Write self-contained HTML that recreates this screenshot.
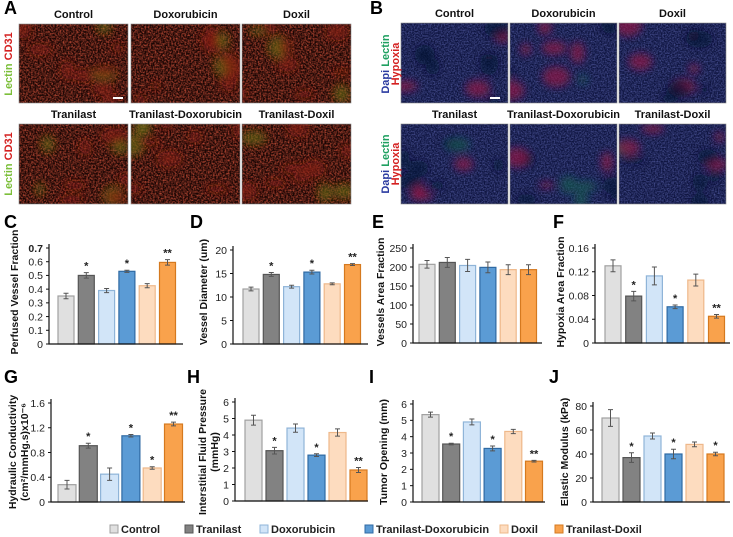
<!DOCTYPE html>
<html><head><meta charset="utf-8">
<style>
html,body{margin:0;padding:0;background:#fff;}
svg{display:block;font-family:"Liberation Sans",Arial,sans-serif;}
.t{font-weight:bold;font-size:11px;}
.tk{font-size:10.5px;fill:#222;}
.yt{font-weight:bold;font-size:10.5px;fill:#111;}
.lt{font-weight:bold;font-size:18px;fill:#000;font-family:"Liberation Sans",Arial,sans-serif;}
.lg{font-weight:bold;font-size:11px;fill:#222;}
</style></head>
<body>
<svg id="fig" width="733" height="537" viewBox="0 0 733 537" xmlns="http://www.w3.org/2000/svg">
<defs>
<filter id="blur" x="-50%" y="-50%" width="200%" height="200%"><feGaussianBlur stdDeviation="4"/></filter>
<filter id="noiseR"><feTurbulence type="fractalNoise" baseFrequency="0.6" numOctaves="2" seed="3"/><feColorMatrix values="0 0 0 0 0.75  0 0 0 0 0.1  0 0 0 0 0.05  1.6 0 0 0 -0.55"/></filter>
<filter id="noiseB"><feTurbulence type="fractalNoise" baseFrequency="0.7" numOctaves="2" seed="5"/><feColorMatrix values="0 0 0 0 0.15  0 0 0 0 0.18  0 0 0 0 0.55  1.2 0 0 0 -0.4"/></filter>
</defs>
<g id="panels"></g>
<g id="charts"></g>
<g id="legend"></g>
</svg>
<script>
// ---- chart data ----
const groups = ["Control","Tranilast","Doxorubicin","Tranilast-Doxorubicin","Doxil","Tranilast-Doxil"];
const perfusedVals = [0.35,0.50,0.39,0.53,0.425,0.595];
const perfusedErr = [0.02,0.02,0.015,0.008,0.015,0.02];
const perfusedStars = ["","*","","*","","**"];
const perfusedTicks = ["0","0.1","0.2","0.3","0.4","0.5","0.6","0.7"];
const diameterVals = [11.7,14.8,12.2,15.3,12.8,16.9];
const diameterErr = [0.4,0.4,0.3,0.4,0.2,0.2];
const diameterStars = ["","*","","*","","**"];
const diameterTicks = ["0","5","10","15","20"];
const areaVals = [207,212,204,199,193,193];
const areaErr = [10,13,16,14,13,13];
const areaStars = ["","","","","",""];
const areaTicks = ["0","50","100","150","200","250"];
const hypoxiaVals = [0.130,0.079,0.113,0.061,0.106,0.045];
const hypoxiaErr = [0.010,0.008,0.015,0.003,0.010,0.003];
const hypoxiaStars = ["","*","","*","","**"];
const hypoxiaTicks = ["0","0.04","0.08","0.12","0.16"];
const hydraulicVals = [0.28,0.91,0.45,1.07,0.55,1.26];
const hydraulicErr = [0.07,0.04,0.10,0.02,0.02,0.03];
const hydraulicStars = ["","*","","*","*","**"];
const hydraulicTicks = ["0","0.4","0.8","1.2","1.6"];
const ifpVals = [4.9,3.05,4.42,2.78,4.15,1.88];
const ifpErr = [0.3,0.2,0.25,0.08,0.22,0.15];
const ifpStars = ["","*","","*","","**"];
const ifpTicks = ["0","1","2","3","4","5","6"];
const openingVals = [5.35,3.55,4.9,3.28,4.32,2.5];
const openingErr = [0.15,0.05,0.18,0.15,0.13,0.05];
const openingStars = ["","*","","*","","**"];
const openingTicks = ["0","1","2","3","4","5","6"];
const modulusVals = [70,37,55,40,48,40];
const modulusErr = [7,4,2.5,4,2,1.5];
const modulusStars = ["","*","","*","","*"];
const modulusTicks = ["0","20","40","60","80"];

const fills = ["#e0e0e0","#828282","#d2e5f8","#5b9bd5","#fddcbf","#f9a24c"];
const strokes = ["#a0a0a0","#555555","#8fb4d8","#2f6aa3","#eeb88a","#d5791f"];
const NS = "http://www.w3.org/2000/svg";
function el(tag, attrs, parent, text){
  const e = document.createElementNS(NS, tag);
  for (const k in attrs) e.setAttribute(k, attrs[k]);
  if (text !== undefined) e.textContent = text;
  parent.appendChild(e);
  return e;
}
const P = document.getElementById("panels");
const C = document.getElementById("charts");
const L = document.getElementById("legend");

// ---- panel letters ----
const letters = [["A",4,14],["B",370,14],["C",4,228],["D",190,228],["E",372,228],["F",553,228],["G",4,383],["H",187,383],["I",369,383],["J",549,383]];
letters.forEach(l=>{
  const t = el("text",{x:l[1],y:l[2],class:"lt"},P,l[0]);
  
  
});

// ---- microscopy panels ----
function pseudo(seed){ let s=seed; return ()=>{ s=(s*9301+49297)%233280; return s/233280; }; }
function micro(x,y,w,h,type,seed,title,name){
  const g = el("g",{},P);
  
  
  el("rect",{x:x,y:y,width:w,height:h,fill:type==="A"?"#1a0604":"#0e1440"},g);
  const cp = el("clipPath",{id:"c"+seed},g);
  el("rect",{x:x,y:y,width:w,height:h},cp);
  el("rect",{x:x,y:y,width:w,height:h,filter:type==="A"?"url(#noiseR)":"url(#noiseB)","clip-path":"url(#c"+seed+")"},g);
  const bl = el("g",{"clip-path":"url(#c"+seed+")",filter:"url(#blur)"},g);
  const r = pseudo(seed);
  for(let i=0;i<10;i++){
    let col;
    if(type==="A") col = r()<0.3 ? "#6a7018" : "#8a1a0c";
    else col = r()<0.35 ? "#a01840" : (r()<0.2?"#186050":"#080c30");
    el("ellipse",{cx:x+r()*w,cy:y+r()*h,rx:4+r()*10,ry:3+r()*8,fill:col,opacity:0.6},bl);
  }
  el("rect",{x:x,y:y,width:w,height:h,fill:"none",stroke:"#888","stroke-width":0.6},g);
  const t = el("text",{x:x+w/2,y:y-6,"text-anchor":"middle",class:"t",fill:"#111"},g,title);
  
  
}
const titlesTop = ["Control","Doxorubicin","Doxil"];
const titlesBot = ["Tranilast","Tranilast-Doxorubicin","Tranilast-Doxil"];
const axs = [19,131,242], bxs = [401,510,619];
for(let i=0;i<3;i++){
  micro(axs[i],24,109,79,"A",11+i,titlesTop[i],"panel-a-image-"+(i+1));
  micro(axs[i],124,109,80,"A",21+i,titlesBot[i],"panel-a-image-"+(i+4));
  micro(bxs[i],23,107,80,"B",31+i,titlesTop[i],"panel-b-image-"+(i+1));
  micro(bxs[i],124,107,80,"B",41+i,titlesBot[i],"panel-b-image-"+(i+4));
}
el("rect",{x:113,y:97,width:10,height:2,fill:"#fff"},P);
el("rect",{x:490,y:97,width:10,height:2,fill:"#fff"},P);
function sideLabel(cx,cy,parts,name){
  const t = el("text",{transform:"translate("+cx+","+cy+") rotate(-90)","text-anchor":"middle",class:"t"},P);
  
  
  parts.forEach(p=>{ el("tspan",{fill:p[1]},t,p[0]); });
}
sideLabel(12,64,[["Lectin ","#7cbf3a"],["CD31","#d42020"]],"panel-a-stain-label-top");
sideLabel(12,164,[["Lectin ","#7cbf3a"],["CD31","#d42020"]],"panel-a-stain-label-bottom");
[64,164].forEach((cy,i)=>{
  const t = el("text",{transform:"translate(389,"+cy+") rotate(-90)","text-anchor":"middle",class:"t"},P);
  
  
  el("tspan",{fill:"#2a3aa0"},t,"Dapi ");
  el("tspan",{fill:"#1fa060"},t,"Lectin");
  const t2 = el("text",{transform:"translate(399,"+cy+") rotate(-90)","text-anchor":"middle",class:"t",fill:"#d42020"},P,"Hypoxia");
  
  
});

// ---- bar charts ----
function chart(cfg){
  const g = el("g",{},C);
  
  
  const maxV = parseFloat(cfg.ticks[cfg.ticks.length-1]);
  const yS = v => cfg.y0 - (v/maxV)*(cfg.y0-cfg.ytop);
  cfg.vals.forEach((v,i)=>{
    const x = cfg.bx + i*cfg.sp;
    const b = el("rect",{x:x,y:yS(v),width:cfg.w,height:cfg.y0-yS(v),fill:fills[i],stroke:strokes[i],"stroke-width":1.2},g);
    
    
    const cx = x + cfg.w/2, e = cfg.err[i];
    const eb = el("path",{d:"M"+cx+","+yS(v+e)+"V"+yS(v-e)+"M"+(cx-2.5)+","+yS(v+e)+"h5M"+(cx-2.5)+","+yS(v-e)+"h5",stroke:"#555","stroke-width":1,fill:"none"},g);
    
    
    if(cfg.stars[i]){
      const s = el("text",{x:cx,y:yS(v+e)-3,"text-anchor":"middle","font-size":"11","font-weight":"bold",fill:"#222"},g,cfg.stars[i]);
      
      
    }
  });
  const ax = el("path",{d:"M"+cfg.ax+","+(cfg.ytop-4)+"V"+cfg.y0+"H"+cfg.xend,stroke:"#111","stroke-width":1.2,fill:"none"},g);
  
  
  cfg.ticks.forEach((tk,i)=>{
    const yy = yS(parseFloat(tk));
    el("line",{x1:cfg.ax-3,x2:cfg.ax,y1:yy,y2:yy,stroke:"#111","stroke-width":1},g);
    const t = el("text",{x:cfg.ax-6,y:yy+3.8,"text-anchor":"end",class:"tk","font-weight":(cfg.boldTop&&i===cfg.ticks.length-1)?"bold":"normal"},g,tk);
    
    
  });
  cfg.title.forEach((line,j)=>{
    const t = el("text",{transform:"translate("+(cfg.tx+j*12)+","+cfg.ty+") rotate(-90)","text-anchor":"middle",class:"yt"},g,line);
    
    
  });
}
chart({name:"perfused-vessel-chart",vals:perfusedVals,err:perfusedErr,stars:perfusedStars,ticks:perfusedTicks,ax:49,y0:344,ytop:248,bx:58,sp:20.3,w:16,xend:183,title:["Perfused Vessel Fraction"],tx:18,ty:292,boldTop:true});
chart({name:"vessel-diameter-chart",vals:diameterVals,err:diameterErr,stars:diameterStars,ticks:diameterTicks,ax:233,y0:344,ytop:250,bx:243,sp:20.3,w:16,xend:368,title:["Vessel Diameter (um)"],tx:207,ty:292});
chart({name:"vessels-area-chart",vals:areaVals,err:areaErr,stars:areaStars,ticks:areaTicks,ax:413,y0:343,ytop:248,bx:419,sp:20.3,w:16,xend:542,title:["Vessels Area Fraction"],tx:384,ty:292});
chart({name:"hypoxia-area-chart",vals:hypoxiaVals,err:hypoxiaErr,stars:hypoxiaStars,ticks:hypoxiaTicks,ax:595,y0:343,ytop:248,bx:605,sp:20.7,w:16,xend:730,title:["Hypoxia Area Fraction"],tx:564,ty:292});
chart({name:"hydraulic-conductivity-chart",vals:hydraulicVals,err:hydraulicErr,stars:hydraulicStars,ticks:hydraulicTicks,ax:51,y0:502,ytop:403,bx:58,sp:21.3,w:18,xend:185,title:["Hydraulic Conductivity","(cm\u00B2/mmHg.s)x10\u207B\u2076"],tx:16,ty:452});
chart({name:"interstitial-fluid-pressure-chart",vals:ifpVals,err:ifpErr,stars:ifpStars,ticks:ifpTicks,ax:235,y0:501,ytop:402,bx:245,sp:21,w:17,xend:368,title:["Interstitial Fluid Pressure","(mmHg)"],tx:206,ty:452});
chart({name:"tumor-opening-chart",vals:openingVals,err:openingErr,stars:openingStars,ticks:openingTicks,ax:413,y0:502,ytop:404,bx:422,sp:20.7,w:17,xend:545,title:["Tumor Opening (mm)"],tx:387,ty:452});
chart({name:"elastic-modulus-chart",vals:modulusVals,err:modulusErr,stars:modulusStars,ticks:modulusTicks,ax:593,y0:502,ytop:406,bx:602,sp:21,w:17,xend:730,title:["Elastic Modulus (kPa)"],tx:568,ty:452});

// ---- legend ----
const legX = [110,185,260,365,500,555];
groups.forEach((gname,i)=>{
  const g = el("g",{},L);
  
  
  el("rect",{x:legX[i],y:525,width:8,height:8,fill:fills[i],stroke:strokes[i],"stroke-width":1},g);
  el("text",{x:legX[i]+11,y:533,class:"lg"},g,gname);
});
</script>
</body></html>
